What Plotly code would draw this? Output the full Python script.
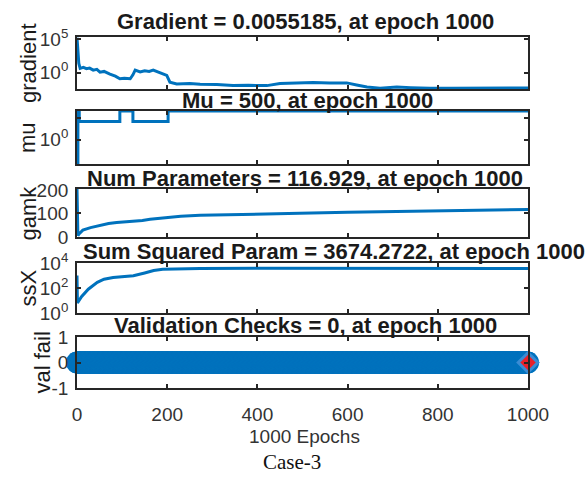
import plotly.graph_objects as go

# ---- training record (trainbr) ----
grad_epochs = [0, 2, 4, 7, 14, 21, 28, 36, 44, 51, 60, 73, 85, 95, 105, 118, 124, 129,
               140, 150, 160, 169, 185, 199, 206, 221, 250, 273, 310, 346, 380, 421, 450,
               494, 524, 560, 598, 620, 643, 672, 709, 740, 783, 830, 894, 950, 1000]
grad_values = [1.6e5, 1e3, 25, 4.5, 6.3, 4.0, 5.0, 2.5, 3.2, 1.26, 1.6, 0.63, 0.32, 0.13,
               0.16, 0.13, 0.5, 2.5, 1.3, 2.0, 1.6, 2.5, 1.0, 0.4, 0.04, 0.022, 0.025, 0.02,
               0.018, 0.0126, 0.014, 0.0126, 0.025, 0.032, 0.035, 0.032, 0.032, 0.016, 0.008,
               0.005, 0.008, 0.0063, 0.005, 0.0052, 0.005, 0.0054, 0.0055185]

mu_epochs = [0, 2, 5, 95, 124, 202, 1000]
mu_values = [0.005, 500, 50, 500, 50, 500, 500]

gamk_epochs = [0, 2, 5, 13, 30, 51, 70, 88, 110, 124, 145, 162, 180, 199, 230, 273, 330,
               400, 494, 600, 700, 800, 900, 1000]
gamk_values = [205, 6, 14, 29, 40, 50, 57, 62, 64, 65, 70, 75, 79, 83, 88, 92, 95, 97, 101,
               105, 108, 111, 114, 116.929]

ssx_epochs = [0, 1, 10, 25, 45, 60, 80, 100, 125, 150, 170, 190, 213, 273, 400, 600, 800, 1000]
ssx_values = [1000, 6.3, 20, 80, 280, 500, 700, 830, 950, 1600, 2500, 3200, 3400, 3600,
              3800, 3750, 3700, 3674.2722]

valfail_epochs = list(range(0, 1001))
valfail_values = [0] * len(valfail_epochs)

titles = ["Gradient = 0.0055185, at epoch 1000",
          "Mu = 500, at epoch 1000",
          "Num Parameters = 116.929, at epoch 1000",
          "Sum Squared Param = 3674.2722, at epoch 1000",
          "Validation Checks = 0, at epoch 1000"]
ylabels = ["gradient", "mu", "gamk", "ssX", "val fail"]
x_ticks = [0, 200, 400, 600, 800, 1000]

# ---- styling ----
W, H = 585, 479
BLUE = "#0072BD"
AXIS = "#262626"
FONT = "Liberation Sans, Arial, Helvetica, sans-serif"
TICK_SIZE = 19
TITLE_SIZE = 22
YLABEL_SIZE = 22

X_LEFT, X_RIGHT = 77, 528
boxes = [(37, 89), (111, 164), (189, 237), (263, 313), (337, 388)]  # top/bottom in px

fig = go.Figure()

line = dict(color=BLUE, width=3)
fig.add_trace(go.Scatter(x=grad_epochs, y=grad_values, mode="lines", line=line,
                         xaxis="x", yaxis="y", cliponaxis=False))
fig.add_trace(go.Scatter(x=mu_epochs, y=mu_values, mode="lines",
                         line=dict(color=BLUE, width=3, shape="hv"),
                         xaxis="x2", yaxis="y2", cliponaxis=False))
fig.add_trace(go.Scatter(x=gamk_epochs, y=gamk_values, mode="lines", line=line,
                         xaxis="x3", yaxis="y3", cliponaxis=False))
fig.add_trace(go.Scatter(x=ssx_epochs, y=ssx_values, mode="lines", line=line,
                         xaxis="x4", yaxis="y4", cliponaxis=False))
fig.add_trace(go.Scatter(x=valfail_epochs, y=valfail_values, mode="markers",
                         marker=dict(symbol="circle", size=22, color=BLUE, line=dict(width=0)),
                         xaxis="x5", yaxis="y5", cliponaxis=False))
fig.add_trace(go.Scatter(x=valfail_epochs[-1:], y=valfail_values[-1:], mode="markers",
                         marker=dict(symbol="diamond", size=15, color="#E8202A",
                                     line=dict(width=3, color="#3A8CD4")),
                         xaxis="x5", yaxis="y5", cliponaxis=False))

def ydom(top, bottom):
    return [1 - bottom / H, 1 - top / H]

common_x = dict(range=[0, 1000], tickmode="array", tickvals=x_ticks, ticks="inside",
                ticklen=4, tickwidth=1.5, tickcolor=AXIS, showline=True, linecolor=AXIS,
                linewidth=1.8, mirror="ticks", showgrid=False, zeroline=False,
                automargin=False, domain=[X_LEFT / W, X_RIGHT / W],
                tickfont=dict(family=FONT, size=TICK_SIZE, color="#333333"))
common_y = dict(ticks="inside", ticklen=4, tickwidth=1.5, tickcolor=AXIS, showline=True,
                linecolor=AXIS, linewidth=1.8, mirror="ticks", showgrid=False,
                zeroline=False, tickmode="array", ticklabelstandoff=3, automargin=False,
                tickfont=dict(family=FONT, size=TICK_SIZE, color="#333333"))

yaxes = [
    dict(type="log", range=[-2.4, 5.3], tickvals=[1, 1e5],
         ticktext=["10<sup>0</sup>", "10<sup>5</sup>"]),
    dict(type="log", range=[-2.301, 2.699], tickvals=[1, 100],
         ticktext=["10<sup>0</sup>", ""]),
    dict(type="linear", range=[0, 204], tickvals=[0, 100, 200],
         ticktext=["0", "100", "200"]),
    dict(type="log", range=[0, 4], tickvals=[1, 100, 1e4],
         ticktext=["10<sup>0</sup>", "10<sup>2</sup>", "10<sup>4</sup>"]),
    dict(type="linear", range=[-1, 1], tickvals=[-1, 0, 1],
         ticktext=["-1", "0", "1"]),
]

layout = dict(width=W, height=H, margin=dict(l=0, r=0, t=0, b=0, autoexpand=False),
              paper_bgcolor="white", plot_bgcolor="white", showlegend=False,
              template="none")
for i, (top, bottom) in enumerate(boxes):
    n = "" if i == 0 else str(i + 1)
    xa = dict(common_x, anchor="y" + n, showticklabels=(i == 4),
              ticklabelstandoff=8)
    ya = dict(common_y, anchor="x" + n, domain=ydom(top, bottom), **yaxes[i])
    layout["xaxis" + n] = xa
    layout["yaxis" + n] = ya
fig.update_layout(**layout)

# panel titles
title_pos = [(305, 21.5, "center"), (307, 100, "center"), (305, 178.5, "center"),
             (81, 251.5, "left"), (305, 325.5, "center")]
for text, (cx, cy, anchor) in zip(titles, title_pos):
    fig.add_annotation(text="<b>" + text + "</b>", xref="paper", yref="paper",
                       x=cx / W, y=1 - cy / H, xanchor=anchor, yanchor="middle",
                       showarrow=False,
                       font=dict(family=FONT, size=TITLE_SIZE, color="#1a1a1a"))

# y-axis labels
ylabel_x = [28, 27.5, 27.5, 27.5, 42]
for text, lx, (top, bottom) in zip(ylabels, ylabel_x, boxes):
    fig.add_annotation(text=text, xref="paper", yref="paper", x=lx / W,
                       y=1 - (top + bottom) / 2 / H, xanchor="center", yanchor="middle",
                       textangle=-90, showarrow=False,
                       font=dict(family=FONT, size=YLABEL_SIZE, color="#1a1a1a"))

# x-axis label and caption
fig.add_annotation(text="1000 Epochs", xref="paper", yref="paper", x=304 / W,
                   y=1 - 436 / H, xanchor="center", yanchor="middle", showarrow=False,
                   font=dict(family=FONT, size=19, color="#333333"))
fig.add_annotation(text="Case-3", xref="paper", yref="paper", x=291.5 / W,
                   y=1 - 462 / H, xanchor="center", yanchor="middle", showarrow=False,
                   font=dict(family="Liberation Serif, Times New Roman, serif", size=21,
                             color="#111111"))

fig.write_html("out.html")
